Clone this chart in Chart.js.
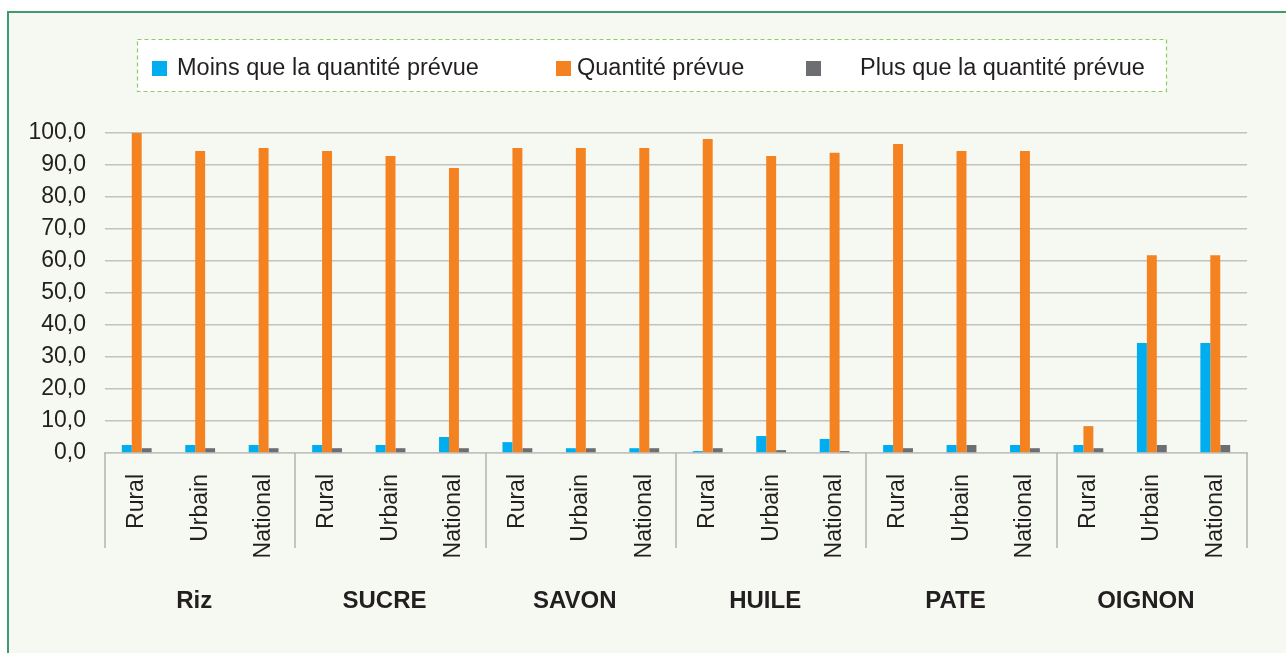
<!DOCTYPE html>
<html>
<head>
<meta charset="utf-8">
<script src="https://cdn.jsdelivr.net/npm/chart.js@4"></script>
<style>
  body { margin: 0; background: #ffffff; overflow: hidden; }
  #frame { position: absolute; left: 7px; top: 11px; width: 1300px; height: 660px;
           border-left: 2px solid #3f9a72; border-top: 2px solid #3f9a72; background: #f6f8f2; }
  #chart { position: absolute; left: 0; top: 0; }
</style>
</head>
<body>
<div id="frame"></div>
<canvas id="chart" width="1286" height="653"></canvas>
<script>
// data
const groups = ['Riz', 'SUCRE', 'SAVON', 'HUILE', 'PATE', 'OIGNON'];
const zones = ['Rural', 'Urbain', 'National'];
const categories = [];
groups.forEach(function () { zones.forEach(function (z) { categories.push(z); }); });

const seriesNames = ['Moins que la quantité prévue', 'Quantité prévue', 'Plus que la quantité prévue'];
const moins  = [2.5, 2.5, 2.5,  2.5, 2.5, 5.0,  3.4, 1.5, 1.5,  0.6, 5.3, 4.4,  2.5, 2.5, 2.5,  2.5, 34.4, 34.4];
const prevue = [100, 94.4, 95.3,  94.4, 92.8, 89.1,  95.3, 95.3, 95.3,  98.1, 92.8, 93.8,  96.6, 94.4, 94.4,  8.4, 61.8, 61.8];
const plus   = [1.5, 1.5, 1.5,  1.5, 1.5, 1.5,  1.5, 1.5, 1.5,  1.5, 0.9, 0.6,  1.5, 2.5, 1.5,  1.5, 2.5, 2.5];
const yTicks = [0, 10, 20, 30, 40, 50, 60, 70, 80, 90, 100];

const colors = ['#00aeef', '#f58220', '#6d6e71'];
const FONT = '"Liberation Sans", Arial, sans-serif';
const TEXT = '#231f20';

// legend drawn by hand so the spacing matches the original box
const legendBox = { x: 137.5, y: 39.5, w: 1029, h: 52 };
const legendItems = [{ box: 152, text: 177 }, { box: 556, text: 577 }, { box: 806, text: 860 }];

const legendPlugin = {
  id: 'boxLegend',
  afterDraw(chart) {
    const ctx = chart.ctx;
    ctx.save();
    ctx.fillStyle = '#ffffff';
    ctx.fillRect(legendBox.x, legendBox.y, legendBox.w, legendBox.h);
    ctx.setLineDash([4, 3]);
    ctx.strokeStyle = '#8dce5e';
    ctx.lineWidth = 1.2;
    ctx.strokeRect(legendBox.x, legendBox.y, legendBox.w, legendBox.h);
    ctx.setLineDash([]);
    ctx.font = '23.5px ' + FONT;
    ctx.textBaseline = 'middle';
    chart.data.datasets.forEach(function (ds, i) {
      const it = legendItems[i];
      ctx.fillStyle = ds.backgroundColor;
      ctx.fillRect(it.box, 61, 15, 15);
      ctx.fillStyle = TEXT;
      ctx.fillText(ds.label, it.text, 69);
    });
    ctx.restore();
  }
};

// group separators and group names under the zone labels
const groupPlugin = {
  id: 'groupAxis',
  afterDraw(chart) {
    const ctx = chart.ctx;
    const x = chart.scales.x;
    const bottom = chart.chartArea.bottom;
    const step = x.getPixelForValue(1) - x.getPixelForValue(0);
    ctx.save();
    ctx.strokeStyle = '#b3b3b3';
    ctx.lineWidth = 1.5;
    for (let g = 0; g <= groups.length; g++) {
      const px = Math.round(x.getPixelForValue(g * 3) - step / 2);
      ctx.beginPath();
      ctx.moveTo(px, bottom);
      ctx.lineTo(px, 548);
      ctx.stroke();
    }
    ctx.fillStyle = TEXT;
    ctx.font = 'bold 24px ' + FONT;
    ctx.textAlign = 'center';
    ctx.textBaseline = 'middle';
    groups.forEach(function (name, g) {
      const cx = (x.getPixelForValue(g * 3) + x.getPixelForValue(g * 3 + 2)) / 2;
      ctx.fillText(name, cx - 6, 601);
    });
    ctx.restore();
  }
};

const ctx = document.getElementById('chart').getContext('2d');
new Chart(ctx, {
  type: 'bar',
  data: {
    labels: categories,
    datasets: [
      { label: seriesNames[0], data: moins,  backgroundColor: colors[0] },
      { label: seriesNames[1], data: prevue, backgroundColor: colors[1] },
      { label: seriesNames[2], data: plus,   backgroundColor: colors[2] }
    ]
  },
  options: {
    responsive: false,
    animation: false,
    devicePixelRatio: 1,
    layout: { padding: { top: 133, right: 39, bottom: 0, left: 0 } },
    datasets: { bar: { categoryPercentage: 0.47, barPercentage: 1.0 } },
    plugins: { legend: { display: false }, tooltip: { enabled: false } },
    scales: {
      x: {
        grid: { display: false, drawTicks: false },
        border: { color: '#c2c2be', width: 1.5 },
        ticks: { minRotation: 90, maxRotation: 90, autoSkip: false, padding: 21,
                 color: TEXT, font: { family: FONT, size: 23 } },
        afterFit(scale) { scale.height = 200; }
      },
      y: {
        min: 0, max: 100,
        afterBuildTicks(scale) { scale.ticks = yTicks.map(function (v) { return { value: v }; }); },
        grid: { color: '#c2c2be', lineWidth: 1.5, drawTicks: false },
        border: { display: false },
        ticks: { padding: 19, color: TEXT, font: { family: FONT, size: 23 },
                 callback: function (v) { return v.toFixed(1).replace('.', ','); } },
        afterFit(scale) { scale.width = 105; }
      }
    }
  },
  plugins: [legendPlugin, groupPlugin]
});
</script>
</body>
</html>
